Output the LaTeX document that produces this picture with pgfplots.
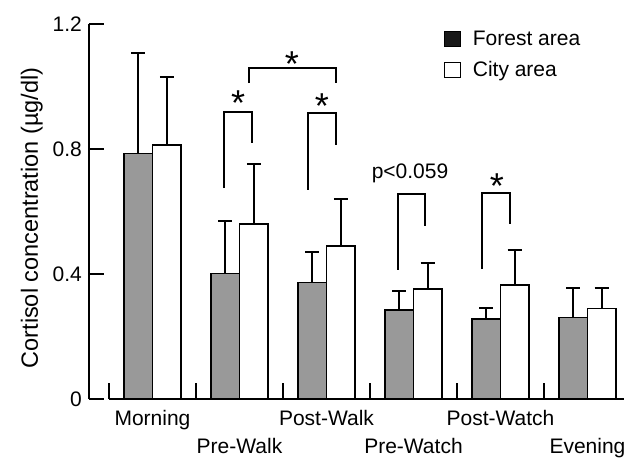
\documentclass[border=0pt]{standalone}
\usepackage{pgfplots}
\pgfplotsset{compat=1.18}
\usepackage{fontspec}
\setmainfont{Liberation Sans}
\definecolor{bargray}{RGB}{153,153,153}
\begin{document}
\fontsize{21}{25}\selectfont
\begin{tikzpicture}
\begin{axis}[
 scale only axis, width=535pt, height=375pt,
 xmin=-0.73, xmax=5.42, ymin=0, ymax=1.2,
 clip=false,
 axis x line=none, axis y line*=left,
 y axis line style={line width=1.5pt, -},
 ytick={0,0.4,0.8,1.2}, yticklabels={0,0.4,0.8,1.2},
 tick align=inside, major tick length=15pt,
 ytick style={line width=1.5pt, black},
 /pgf/number format/assume math mode=true,
 yticklabel style={font=\fontsize{21}{25}\selectfont},
 ylabel={Cortisol concentration (µg/dl)},
 ylabel style={at={(axis description cs:-0.107,0.483)}, anchor=center, font=\fontsize{23.5}{28}\selectfont},
 legend style={at={(axis description cs:0.664,0.988)}, anchor=north west, draw=none, fill=none,
   font=\fontsize{21}{25}\selectfont, row sep=9pt, inner sep=0pt},
 legend cell align=left,
]
% Forest area
\addplot[ybar, bar width=0.328, bar shift=0pt, fill=bargray, draw=black, line width=1.8pt, forget plot,
  error bars/.cd, y dir=plus, y explicit,
  error bar style={line width=2pt, black},
  error mark options={rotate=90, line width=2pt, mark size=7pt, black}]
 coordinates {
 (-0.164,0.786) +- (0,0.322)
 (0.836,0.402) +- (0,0.168)
 (1.836,0.373) +- (0,0.098)
 (2.836,0.284) +- (0,0.061)
 (3.836,0.256) +- (0,0.035)
 (4.836,0.261) +- (0,0.096)
 };
% City area
\addplot[ybar, bar width=0.328, bar shift=0pt, fill=white, draw=black, line width=1.8pt, forget plot,
  error bars/.cd, y dir=plus, y explicit,
  error bar style={line width=2pt, black},
  error mark options={rotate=90, line width=2pt, mark size=7pt, black}]
 coordinates {
 (0.164,0.813) +- (0,0.218)
 (1.164,0.560) +- (0,0.192)
 (2.164,0.490) +- (0,0.150)
 (3.164,0.351) +- (0,0.083)
 (4.164,0.365) +- (0,0.111)
 (5.164,0.290) +- (0,0.067)
 };
\addlegendimage{legend image code/.code={\path[draw=none,fill=none] (0pt,0pt) -- (26pt,0pt); \draw[fill=black!90,draw=black,line width=0.8pt] (0pt,-7pt) rectangle (16pt,8pt);}}
\addlegendentry{Forest area}
\addlegendimage{legend image code/.code={\path[draw=none,fill=none] (0pt,0pt) -- (26pt,0pt); \draw[fill=white,draw=black,line width=0.8pt] (0pt,-7pt) rectangle (16pt,8pt);}}
\addlegendentry{City area}
% x axis line and separators
\addplot[line width=2.5pt, black, forget plot] coordinates {(-0.5,0) (5.42,0)};
\addplot[line width=1.3pt, black, forget plot] coordinates {(-0.5,0) (-0.5,0.05)};
\addplot[line width=1.3pt, black, forget plot] coordinates {(0.5,0) (0.5,0.05)};
\addplot[line width=1.3pt, black, forget plot] coordinates {(1.5,0) (1.5,0.05)};
\addplot[line width=1.3pt, black, forget plot] coordinates {(2.5,0) (2.5,0.05)};
\addplot[line width=1.3pt, black, forget plot] coordinates {(3.5,0) (3.5,0.05)};
\addplot[line width=1.3pt, black, forget plot] coordinates {(4.5,0) (4.5,0.05)};
% brackets
\addplot[line width=1.6pt, black, forget plot] coordinates {(0.822,0.675) (0.822,0.918) (1.144,0.918) (1.144,0.819)};
\addplot[line width=1.6pt, black, forget plot] coordinates {(1.109,1.011) (1.109,1.059) (2.109,1.059) (2.109,1.011)};
\addplot[line width=1.6pt, black, forget plot] coordinates {(1.787,0.669) (1.787,0.915) (2.109,0.915) (2.109,0.813)};
\addplot[line width=1.6pt, black, forget plot] coordinates {(2.822,0.413) (2.822,0.656) (3.132,0.656) (3.132,0.554)};
\addplot[line width=1.6pt, black, forget plot] coordinates {(3.787,0.416) (3.787,0.659) (4.109,0.659) (4.109,0.560)};
% stars and text
\node[anchor=base, font=\fontsize{36}{36}\selectfont, inner sep=0pt] at (axis cs:0.983,0.906) {*};
\node[anchor=base, font=\fontsize{36}{36}\selectfont, inner sep=0pt] at (axis cs:1.603,1.033) {*};
\node[anchor=base, font=\fontsize{36}{36}\selectfont, inner sep=0pt] at (axis cs:1.948,0.899) {*};
\node[anchor=base, font=\fontsize{36}{36}\selectfont, inner sep=0pt] at (axis cs:3.960,0.643) {*};
\node[anchor=base, inner sep=0pt] at (axis cs:2.96,0.707) {p<0.059};
% category labels
\node[anchor=base, inner sep=0pt] at (axis cs:0,-0.083) {Morning};
\node[anchor=base, inner sep=0pt] at (axis cs:1,-0.173) {Pre-Walk};
\node[anchor=base, inner sep=0pt] at (axis cs:2,-0.083) {Post-Walk};
\node[anchor=base, inner sep=0pt] at (axis cs:3,-0.173) {Pre-Watch};
\node[anchor=base, inner sep=0pt] at (axis cs:4,-0.083) {Post-Watch};
\node[anchor=base, inner sep=0pt] at (axis cs:5,-0.173) {Evening};
\coordinate (bl) at (axis cs:-1.753,-0.189);
\coordinate (tr) at (axis cs:5.42,1.277);
\end{axis}
\pgfresetboundingbox
\path[use as bounding box] (bl) rectangle (tr);
\end{tikzpicture}
\end{document}
